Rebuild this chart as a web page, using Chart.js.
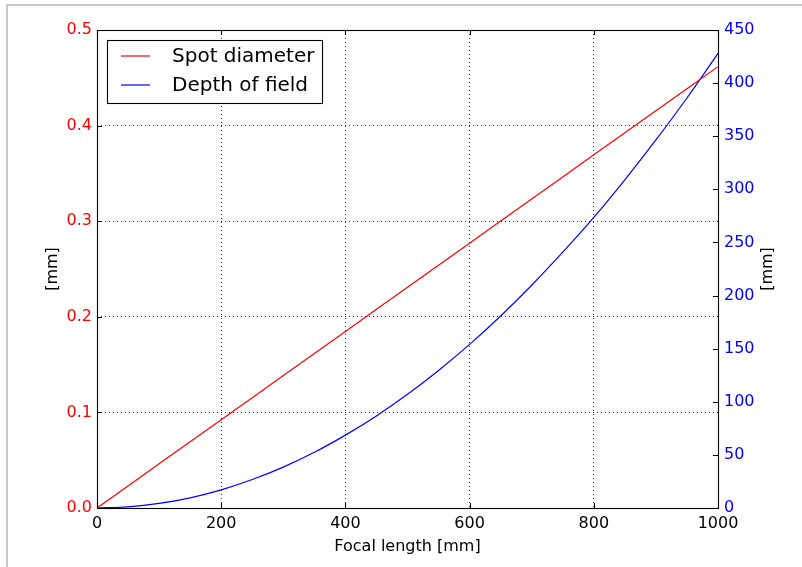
<!DOCTYPE html>
<html>
<head>
<meta charset="utf-8">
<script src="https://cdn.jsdelivr.net/npm/chart.js@4/dist/chart.umd.min.js"></script>
<style>
  html, body { margin: 0; padding: 0; background: #fff; overflow: hidden; }
  #frame { position: absolute; left: 6px; top: 4px; width: 900px; height: 700px;
           border-left: 2px solid #c8c8c8; border-top: 2px solid #c8c8c8; }
  #wrap { position: absolute; left: 0; top: 0; width: 802px; height: 567px; }
</style>
</head>
<body>
<div id="frame"></div>
<div id="wrap"><canvas id="chart" width="802" height="567"></canvas></div>
<script>
// focal length [mm]
var focal = [0, 50, 100, 150, 200, 250, 300, 350, 400, 450, 500,
             550, 600, 650, 700, 750, 800, 850, 900, 950, 1000];
// spot diameter [mm] (left axis)
var spot = [0, 0.0231, 0.0462, 0.0693, 0.0924, 0.1154, 0.1385, 0.1616, 0.1847, 0.2078, 0.2309,
            0.2540, 0.2770, 0.3001, 0.3232, 0.3463, 0.3694, 0.3925, 0.4155, 0.4386, 0.4617];
// depth of field [mm] (right axis)
var dof = [0, 1.1, 4.3, 9.6, 17.1, 26.8, 38.5, 52.4, 68.6, 86.7, 107,
           129.5, 154, 180.8, 209.7, 240.8, 273.6, 309, 346.5, 386, 428];

var xTicks = [0, 200, 400, 600, 800, 1000];
var leftTicks = [0, 0.1, 0.2, 0.3, 0.4, 0.5];
var rightTicks = [0, 50, 100, 150, 200, 250, 300, 350, 400, 450];

function pts(ys) {
    return focal.map(function (x, i) { return {x: x, y: ys[i]}; });
}

var FONT = 'DejaVu Sans';

// matplotlib-like frame, inward ticks, right label and boxed legend
var mplDecor = {
    id: 'mplDecor',
    afterDraw: function (chart) {
        var ctx = chart.ctx;
        var a = chart.chartArea;
        var L = 5;
        ctx.save();
        ctx.strokeStyle = '#000';
        ctx.lineWidth = 1.1;
        ctx.setLineDash([]);
        ctx.beginPath();
        chart.scales.x.ticks.forEach(function (t) {
            var px = Math.round(chart.scales.x.getPixelForValue(t.value)) + 0.5;
            ctx.moveTo(px, a.bottom); ctx.lineTo(px, a.bottom - L);
            ctx.moveTo(px, a.top); ctx.lineTo(px, a.top + L);
        });
        chart.scales.y.ticks.forEach(function (t) {
            var py = Math.round(chart.scales.y.getPixelForValue(t.value)) + 0.5;
            ctx.moveTo(a.left, py); ctx.lineTo(a.left + L, py);
        });
        chart.scales.y2.ticks.forEach(function (t) {
            var py = Math.round(chart.scales.y2.getPixelForValue(t.value)) + 0.5;
            ctx.moveTo(a.right, py); ctx.lineTo(a.right - L, py);
        });
        ctx.stroke();
        ctx.strokeRect(Math.round(a.left) + 0.5, Math.round(a.top) + 0.5,
                       Math.round(a.right - a.left), Math.round(a.bottom - a.top));

        // right axis label, reading bottom to top like the left one
        ctx.save();
        ctx.translate(768, (a.top + a.bottom) / 2);
        ctx.rotate(-Math.PI / 2);
        ctx.font = '16px "' + FONT + '"';
        ctx.fillStyle = '#000';
        ctx.textAlign = 'center';
        ctx.textBaseline = 'middle';
        ctx.fillText('[mm]', 0, 0);
        ctx.restore();

        // legend
        var bx = a.left + 10, by = a.top + 10, bw = 215, bh = 63;
        ctx.fillStyle = '#fff';
        ctx.fillRect(bx, by, bw, bh);
        ctx.strokeStyle = '#000';
        ctx.lineWidth = 1.1;
        ctx.strokeRect(Math.round(bx) + 0.5, Math.round(by) + 0.5, bw, bh);
        ctx.font = '20px "' + FONT + '"';
        ctx.textBaseline = 'middle';
        ctx.textAlign = 'left';
        chart.data.datasets.forEach(function (ds, i) {
            var ry = by + 16 + i * 29;
            ctx.strokeStyle = ds.borderColor;
            ctx.lineWidth = 1.2;
            ctx.beginPath();
            ctx.moveTo(bx + 14, ry); ctx.lineTo(bx + 43, ry);
            ctx.stroke();
            ctx.fillStyle = '#000';
            ctx.fillText(ds.label, bx + 65, ry + 1);
        });
        ctx.restore();
    }
};

new Chart(document.getElementById('chart'), {
    type: 'line',
    data: {
        datasets: [{
            label: 'Spot diameter',
            data: pts(spot),
            yAxisID: 'y',
            borderColor: '#ff0000',
            borderWidth: 1.2,
            pointRadius: 0,
            fill: false
        }, {
            label: 'Depth of field',
            data: pts(dof),
            yAxisID: 'y2',
            borderColor: '#0000ff',
            borderWidth: 1.2,
            pointRadius: 0,
            cubicInterpolationMode: 'monotone',
            fill: false
        }]
    },
    options: {
        responsive: false,
        animation: false,
        layout: { padding: { top: 30, left: 0, right: 0, bottom: 0 } },
        plugins: {
            legend: { display: false },
            tooltip: { enabled: false }
        },
        scales: {
            x: {
                type: 'linear',
                min: 0, max: 1000,
                afterBuildTicks: function (s) { s.ticks = xTicks.map(function (v) { return {value: v}; }); },
                afterFit: function (s) { s.height = 59; },
                ticks: { color: '#000', padding: 6, font: { family: FONT, size: 16 },
                         callback: function (v) { return String(v); } },
                grid: { color: '#000', lineWidth: 0.8, drawTicks: false },
                border: { display: false, dash: [1, 3] },
                title: { display: true, text: 'Focal length [mm]', color: '#000',
                         font: { family: FONT, size: 16 }, padding: { bottom: 11 } }
            },
            y: {
                position: 'left',
                min: 0, max: 0.5,
                afterBuildTicks: function (s) { s.ticks = leftTicks.map(function (v) { return {value: v}; }); },
                afterFit: function (s) { s.width = 97; },
                ticks: { color: '#ff0000', padding: 5, font: { family: FONT, size: 16 },
                         callback: function (v) { return v.toFixed(1); } },
                grid: { color: '#000', lineWidth: 0.8, drawTicks: false },
                border: { display: false, dash: [1, 3] },
                title: { display: true, text: '[mm]', color: '#000',
                         font: { family: FONT, size: 16 }, padding: { top: 43 } }
            },
            y2: {
                position: 'right',
                min: 0, max: 450,
                afterBuildTicks: function (s) { s.ticks = rightTicks.map(function (v) { return {value: v}; }); },
                afterFit: function (s) { s.width = 84; },
                ticks: { color: '#0000ff', padding: 6, font: { family: FONT, size: 16 },
                         callback: function (v) { return String(v); } },
                grid: { display: false, drawTicks: false },
                border: { display: false },
                title: { display: false }
            }
        }
    },
    plugins: [mplDecor]
});
</script>
</body>
</html>
